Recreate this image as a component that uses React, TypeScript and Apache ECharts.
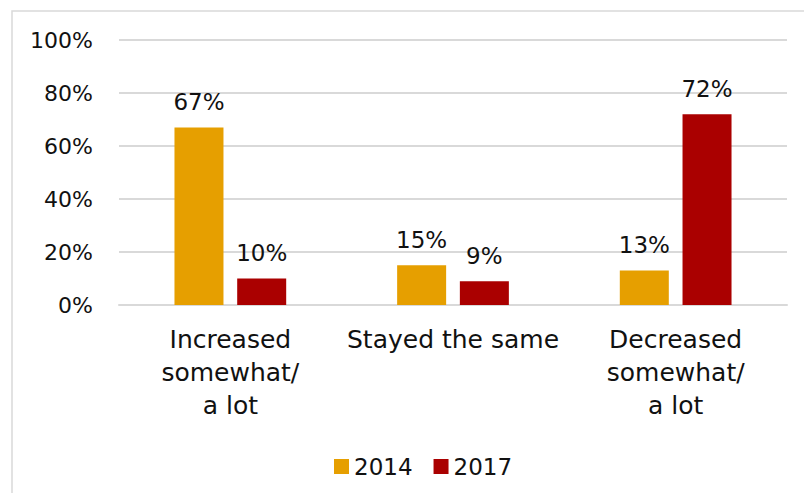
import React, { useEffect, useRef } from "react";
import * as echarts from "echarts";

const categories = ["Increased\nsomewhat/\na lot", "Stayed the same", "Decreased\nsomewhat/\na lot"];
const seriesNames = ["2014", "2017"];
const values2014 = [67, 15, 13];
const values2017 = [10, 9, 72];
const colors = ["#E69F00", "#AA0000"];

const FONT = "DejaVu Sans";

export default function App() {
  const ref = useRef<HTMLDivElement>(null);
  useEffect(() => {
    if (!ref.current) return;
    const chart = echarts.init(ref.current, null, { renderer: "svg" });
    const labelOpt = {
      show: true,
      position: "top" as const,
      distance: 14,
      formatter: "{c}%",
      color: "#111111",
      fontFamily: FONT,
      fontSize: 23,
    };
    chart.setOption({
      animation: false,
      backgroundColor: "#ffffff",
      graphic: [
        {
          type: "rect",
          shape: { x: 12, y: 11, width: 1000, height: 1000 },
          style: { fill: "none", stroke: "#d9d9d9", lineWidth: 1.5 },
          silent: true,
        },
      ],
      grid: { left: 119, right: 17, top: 40, bottom: 188, containLabel: false },
      legend: {
        data: seriesNames,
        left: 329,
        top: 450,
        itemWidth: 15,
        itemHeight: 15,
        itemGap: 21,
        icon: "rect",
        textStyle: { fontFamily: FONT, fontSize: 23, color: "#111111", lineHeight: 23 },
      },
      xAxis: {
        type: "category",
        data: categories,
        axisLine: { lineStyle: { color: "#d9d9d9", width: 2 } },
        axisTick: { show: false },
        axisLabel: {
          interval: 0,
          margin: 18,
          fontFamily: FONT,
          fontSize: 25,
          lineHeight: 33,
          color: "#111111",
        },
      },
      yAxis: {
        type: "value",
        min: 0,
        max: 100,
        interval: 20,
        axisLine: { show: false },
        axisTick: { show: false },
        splitLine: { lineStyle: { color: "#d9d9d9", width: 2 } },
        axisLabel: {
          formatter: "{value}%",
          margin: 26,
          fontFamily: FONT,
          fontSize: 22,
          color: "#111111",
        },
      },
      series: [
        {
          name: seriesNames[0],
          type: "bar",
          data: values2014,
          barWidth: 49,
          barGap: "28%",
          itemStyle: { color: colors[0] },
          label: labelOpt,
        },
        {
          name: seriesNames[1],
          type: "bar",
          data: values2017,
          barWidth: 49,
          barGap: "28%",
          itemStyle: { color: colors[1] },
          label: labelOpt,
        },
      ],
    });
    return () => chart.dispose();
  }, []);
  return (
    <div
      ref={ref}
      style={{ position: "absolute", left: 0, top: 0, width: 804, height: 493 }}
    />
  );
}
